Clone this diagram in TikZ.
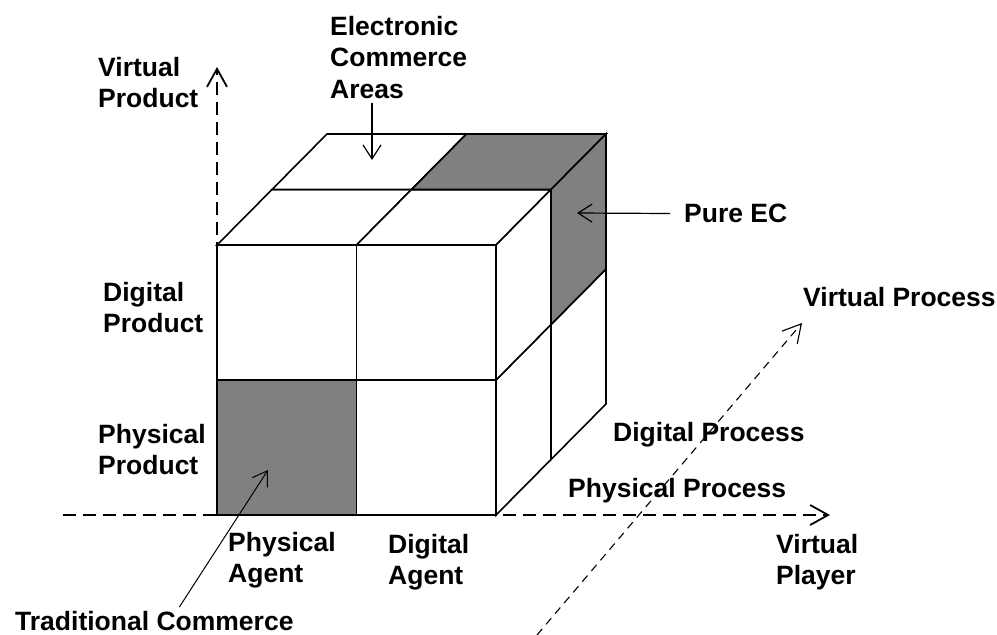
\documentclass[tikz,border=0pt]{standalone}
\usepackage{tikz}
\usetikzlibrary{arrows.meta}
\usepackage{fontspec}
\setmainfont{Liberation Sans}
\tikzstyle{lab}=[inner sep=0pt, anchor=north west, align=left, font=\fontsize{26.5}{31.5}\selectfont\bfseries]
\tikzstyle{cell}=[draw, line width=1.6pt, fill=white]
\tikzstyle{dark}=[cell, fill=black!50]
\tikzstyle{axis}=[dash pattern=on 13pt off 7pt, line width=1.8pt, -{Straight Barb[length=18pt,width=20pt]}]
\tikzstyle{ptr}=[line width=1.2pt, -{Straight Barb[length=14pt,width=18pt]}]
\newcommand{\lab}{\node[lab]}

\begin{document}
\begin{tikzpicture}[x=1pt, y=-1pt]
\useasboundingbox (0,0) rectangle (997,635);
\coordinate (o) at (217,515);
\coordinate (vtip) at (217,67);
\coordinate (hstart) at (63,515);
\coordinate (htip) at (830,515);
\coordinate (dstart) at (537,635);
\coordinate (dtip) at (802,323);
\draw[axis] (o) -- (vtip);
\draw[axis] (hstart) -- (htip);
\draw[axis, line width=1.1pt, dash pattern=on 8pt off 6pt] (dstart) -- (dtip);
\foreach \i in {0,1}{
	\foreach \j in {0,1}{
		\draw[cell] (217+\i*139.5, 515-\j*135) rectangle ++(139.5,-135);
		\draw[cell] (217+\i*139.5+\j*55, 245-\j*55.5) -- ++(139.5,0) -- ++(55,-55.5) -- ++(-139.5,0) -- cycle;
		\draw[cell] (496+\j*55, 515-\i*135-\j*55.5) -- ++(0,-135) -- ++(55,-55.5) -- ++(0,135) -- cycle;
	}}
\draw[dark] (217,515) rectangle ++(139.5,-135);
\draw[dark] (411.5,189.5) -- ++(139.5,0) -- ++(55,-55.5) -- ++(-139.5,0) -- cycle;
\draw[dark] (551,324.5) -- ++(0,-135) -- ++(55,-55.5) -- ++(0,135) -- cycle;
\lab (vp) at (98,57) {Virtual\\Product};
\lab (eca) at (330,16) {Electronic\\Commerce\\Areas};
\lab (pec) at (684,204) {Pure EC};
\lab (vpr) at (803,287) {Virtual Process};
\lab (dp) at (103,282) {Digital\\Product};
\lab (pp) at (98,424) {Physical\\Product};
\lab (pa) at (228,532) {Physical\\Agent};
\lab (da) at (388,534) {Digital\\Agent};
\lab (tc) at (15,611) {Traditional Commerce};
\lab (dpr) at (613,422) {Digital Process};
\lab (ppr) at (568,478) {Physical Process};
\lab (vpl) at (776,534) {Virtual\\Player};
\coordinate (ecatip) at (372,160);
\coordinate (pectip) at (577,213);
\coordinate (tctip) at (268,470);
\draw[ptr, shorten <=4pt] (eca.south -| ecatip) -- (ecatip);
\draw[ptr, shorten <=14pt] (pec.west) -- (pectip);
\draw[ptr, line width=1pt] ([xshift=25pt,yshift=4pt]tc.north) -- (tctip);
\end{tikzpicture}
\end{document}
